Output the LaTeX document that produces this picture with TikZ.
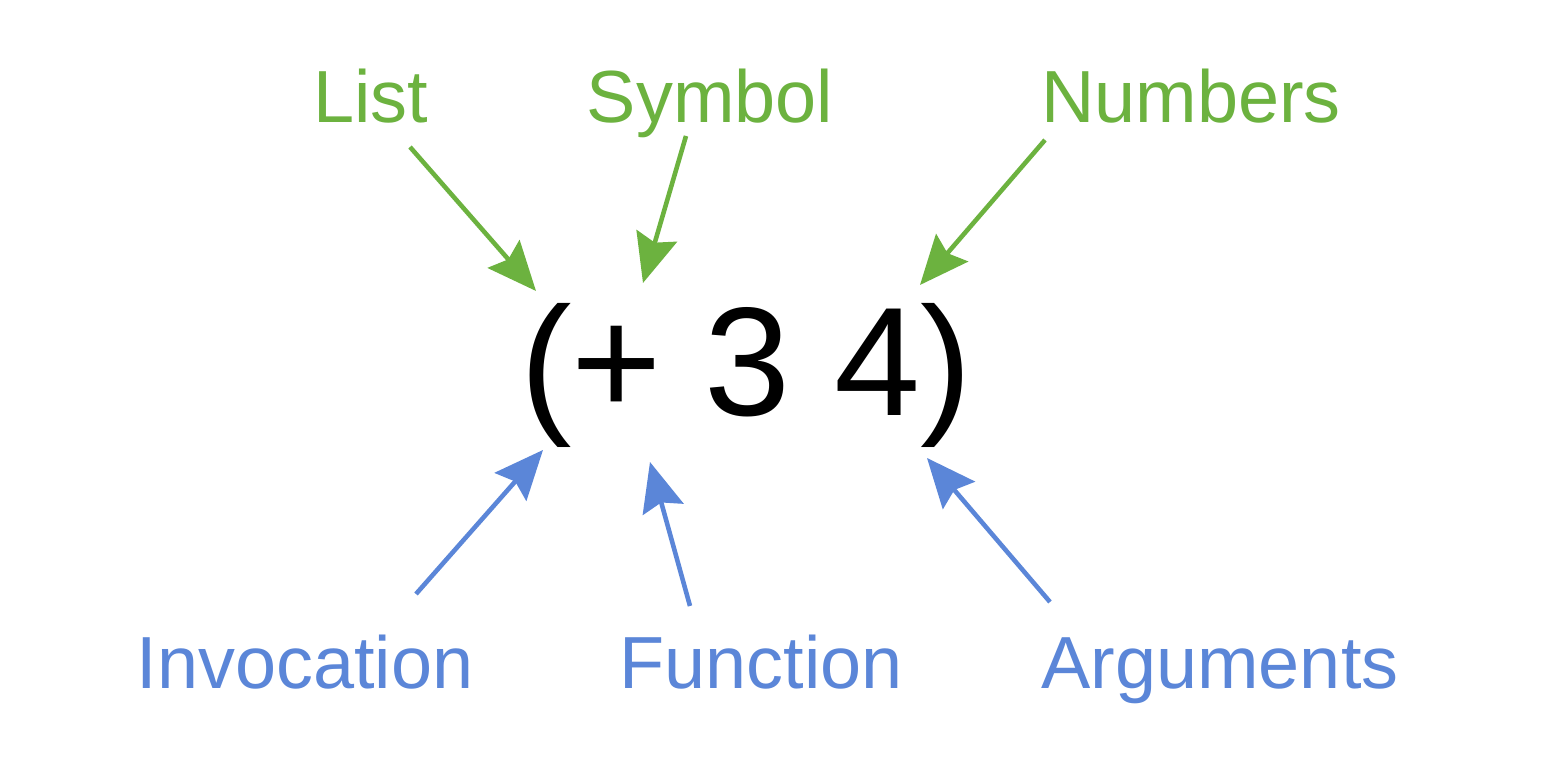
\documentclass[tikz,border=0pt]{standalone}
\usepackage{fontspec}
\setmainfont{Liberation Sans}
\usetikzlibrary{arrows.meta}
\definecolor{lblgreen}{HTML}{6CB23F}
\definecolor{lblblue}{HTML}{5B86D8}
\tikzset{
  lbl/.style={inner sep=0pt, anchor=base, font=\fontsize{21}{25}\selectfont},
  greenlbl/.style={lbl, text=lblgreen},
  bluelbl/.style={lbl, text=lblblue},
  pointer/.style={line width=1.3pt, -{Stealth[length=4.9mm, width=4.2mm, inset=0.7mm]}},
  greenptr/.style={pointer, draw=lblgreen, fill=lblgreen},
  blueptr/.style={pointer, draw=lblblue, fill=lblblue},
  expr/.style={inner sep=0pt, anchor=base, font=\fontsize{44}{50}\selectfont}
}
\begin{document}
\begin{tikzpicture}[x=0.01cm,y=-0.01cm]
\useasboundingbox[fill=white] (0,0) rectangle (1550,768);
% main expression
\node[expr] (expr) at (746,416) {(+ 3 4)};
% labels
\node[greenlbl] (list) at (371,123) {List};
\node[greenlbl] (symbol) at (710,123) {Symbol};
\node[greenlbl] (numbers) at (1191,123) {Numbers};
\node[bluelbl] (invocation) at (305,689) {Invocation};
\node[bluelbl] (function) at (761,689) {Function};
\node[bluelbl] (arguments) at (1220,689) {Arguments};
% arrow end points
\coordinate (listS) at (410,147);
\coordinate (listE) at (536,291);
\coordinate (symS) at (686,136);
\coordinate (symE) at (643,283);
\coordinate (numS) at (1045,140);
\coordinate (numE) at (920,285);
\coordinate (invS) at (416,594);
\coordinate (invE) at (543,450);
\coordinate (funS) at (690,606);
\coordinate (funE) at (650,462);
\coordinate (argS) at (1050,602);
\coordinate (argE) at (927,458);
% arrows
\draw[greenptr] (listS) -- (listE);
\draw[greenptr] (symS) -- (symE);
\draw[greenptr] (numS) -- (numE);
\draw[blueptr] (invS) -- (invE);
\draw[blueptr] (funS) -- (funE);
\draw[blueptr] (argS) -- (argE);
\end{tikzpicture}
\end{document}
